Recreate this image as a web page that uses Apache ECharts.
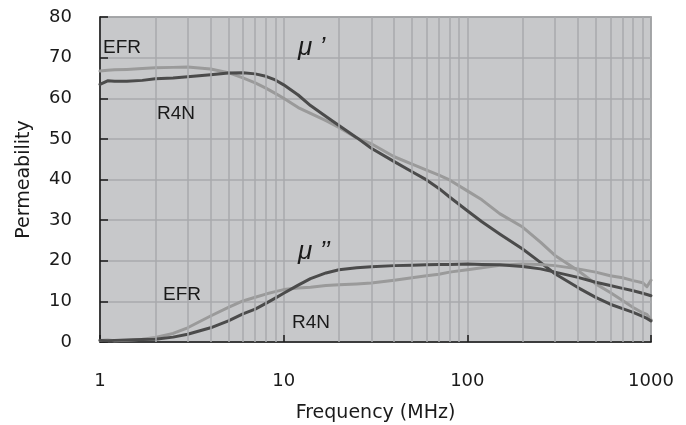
<!DOCTYPE html>
<html>
<head>
<meta charset="utf-8">
<script src="https://cdn.jsdelivr.net/npm/echarts@6/dist/echarts.min.js"></script>
<style>
  html, body { margin: 0; padding: 0; background: #fff; }
  #chart { width: 686px; height: 425px; }
</style>
</head>
<body>
<div id="chart"></div>
<script>
// frequency points (MHz)
var freq = [1, 1.1, 1.2, 1.4, 1.7, 2, 2.5, 3, 4, 5, 6, 7, 8, 9, 10, 12, 14, 17, 20, 25, 30, 40, 50, 60, 70, 80, 100, 120, 150, 200, 250, 300, 400, 500, 600, 700, 800, 900, 950, 1000];

// μ' curves
var efrReal = [66.7, 66.9, 67.0, 67.1, 67.3, 67.5, 67.6, 67.7, 67.2, 66.3, 65.0, 63.8, 62.5, 61.2, 60.0, 57.7, 56.3, 54.5, 52.8, 50.2, 48.8, 45.6, 43.8, 42.3, 41.1, 39.9, 37.2, 35.0, 31.6, 28.3, 24.6, 21.3, 17.6, 14.3, 12.2, 10.2, 8.5, 7.2, 6.8, 5.5];
var r4nReal = [63.4, 64.3, 64.2, 64.2, 64.4, 64.8, 65.0, 65.3, 65.8, 66.2, 66.3, 66.0, 65.4, 64.5, 63.3, 60.8, 58.2, 55.5, 53.3, 50.3, 47.7, 44.4, 41.9, 39.9, 37.8, 35.7, 32.3, 29.6, 26.6, 22.9, 19.6, 16.8, 13.4, 11.0, 9.3, 8.2, 7.3, 6.3, 5.8, 5.2];

// μ'' curves
var efrImag = [0.4, 0.5, 0.3, 0.4, 0.7, 1.1, 2.1, 3.5, 6.4, 8.5, 10.1, 11.0, 11.8, 12.4, 12.9, 13.3, 13.5, 13.9, 14.1, 14.3, 14.5, 15.2, 15.8, 16.3, 16.7, 17.2, 17.8, 18.3, 18.9, 19.2, 19.1, 18.8, 18.0, 17.2, 16.3, 15.8, 15.1, 14.6, 13.6, 15.2];
var r4nImag = [0.4, 0.3, 0.4, 0.5, 0.6, 0.7, 1.2, 1.9, 3.5, 5.2, 6.9, 8.1, 9.5, 10.8, 12.0, 14.0, 15.6, 17.0, 17.8, 18.3, 18.5, 18.8, 18.9, 19.0, 19.1, 19.1, 19.2, 19.1, 19.0, 18.6, 18.0, 17.2, 15.9, 14.7, 13.9, 13.2, 12.6, 12.0, 11.7, 11.4];

// log minor grid lines
var minorGrid = [2, 3, 4, 5, 6, 7, 8, 9, 20, 30, 40, 50, 60, 70, 80, 90, 200, 300, 400, 500, 600, 700, 800, 900];

var LIGHT = '#9a9a9a';
var DARK = '#4b4b4b';

function pairs(ys) {
  return freq.map(function (f, i) { return [f, ys[i]]; });
}

function curve(name, ys, color) {
  return {
    name: name,
    type: 'line',
    data: pairs(ys),
    showSymbol: false,
    z: 3,
    lineStyle: { color: color, width: 3, join: 'round', cap: 'round' }
  };
}

var chart = echarts.init(document.getElementById('chart'));

var lbl = function (x, y, text, size, italic) {
  return {
    type: 'text', left: x, top: y, z: 10,
    style: {
      text: text, fill: '#1a1a1a',
      font: (italic ? 'italic ' : '') + size + 'px "Liberation Sans", sans-serif'
    }
  };
};

chart.setOption({
  animation: false,
  grid: {
    left: 100, top: 17, right: 35, bottom: 83,
    outerBoundsMode: 'none',
    containLabel: false,
    show: true,
    backgroundColor: '#c7c8ca',
    borderColor: '#808080',
    borderWidth: 1.5
  },
  xAxis: {
    type: 'log',
    logBase: 10,
    min: 1,
    max: 1000,
    name: 'Frequency (MHz)',
    nameLocation: 'middle',
    nameGap: 62,
    nameTextStyle: { fontFamily: 'DejaVu Sans', fontSize: 19, color: '#1a1a1a' },
    axisLine: { lineStyle: { color: '#1a1a1a', width: 1.5 } },
    axisTick: { inside: true, length: 7, lineStyle: { color: '#1a1a1a', width: 1.5 } },
    axisLabel: {
      fontFamily: 'DejaVu Sans', fontSize: 18, color: '#1a1a1a', margin: 30,
      formatter: function (v) { return String(Math.round(v)); }
    },
    splitLine: { show: true, lineStyle: { color: '#a9aaac', width: 1.5 } }
  },
  yAxis: {
    type: 'value',
    min: 0,
    max: 80,
    interval: 10,
    name: 'Permeability',
    nameLocation: 'middle',
    nameGap: 66,
    nameTextStyle: { fontFamily: 'DejaVu Sans', fontSize: 19, color: '#1a1a1a' },
    axisLine: { show: true, lineStyle: { color: '#1a1a1a', width: 1.5 } },
    axisTick: { show: true, inside: true, length: 8, lineStyle: { color: '#1a1a1a', width: 1.5 } },
    axisLabel: { fontFamily: 'DejaVu Sans', fontSize: 18, color: '#1a1a1a', margin: 28 },
    splitLine: { show: true, lineStyle: { color: '#a9aaac', width: 1.5 } }
  },
  graphic: [
    lbl(103, 38, 'EFR', 19),
    lbl(157, 104, 'R4N', 19),
    lbl(163, 285, 'EFR', 19),
    lbl(292, 313, 'R4N', 19),
    lbl(298, 35, 'μ ’', 26, true),
    lbl(298, 239, 'μ ’’', 26, true)
  ],
  series: [
    {
      type: 'line',
      data: [],
      z: 1,
      silent: true,
      markLine: {
        silent: true,
        symbol: ['none', 'none'],
        label: { show: false },
        lineStyle: { color: '#a9aaac', width: 1.5, type: 'solid' },
        data: minorGrid.map(function (v) { return { xAxis: v }; })
      }
    },
    curve('EFR μ\'', efrReal, LIGHT),
    curve('R4N μ\'', r4nReal, DARK),
    curve('EFR μ\'\'', efrImag, LIGHT),
    curve('R4N μ\'\'', r4nImag, DARK)
  ]
});
</script>
</body>
</html>
